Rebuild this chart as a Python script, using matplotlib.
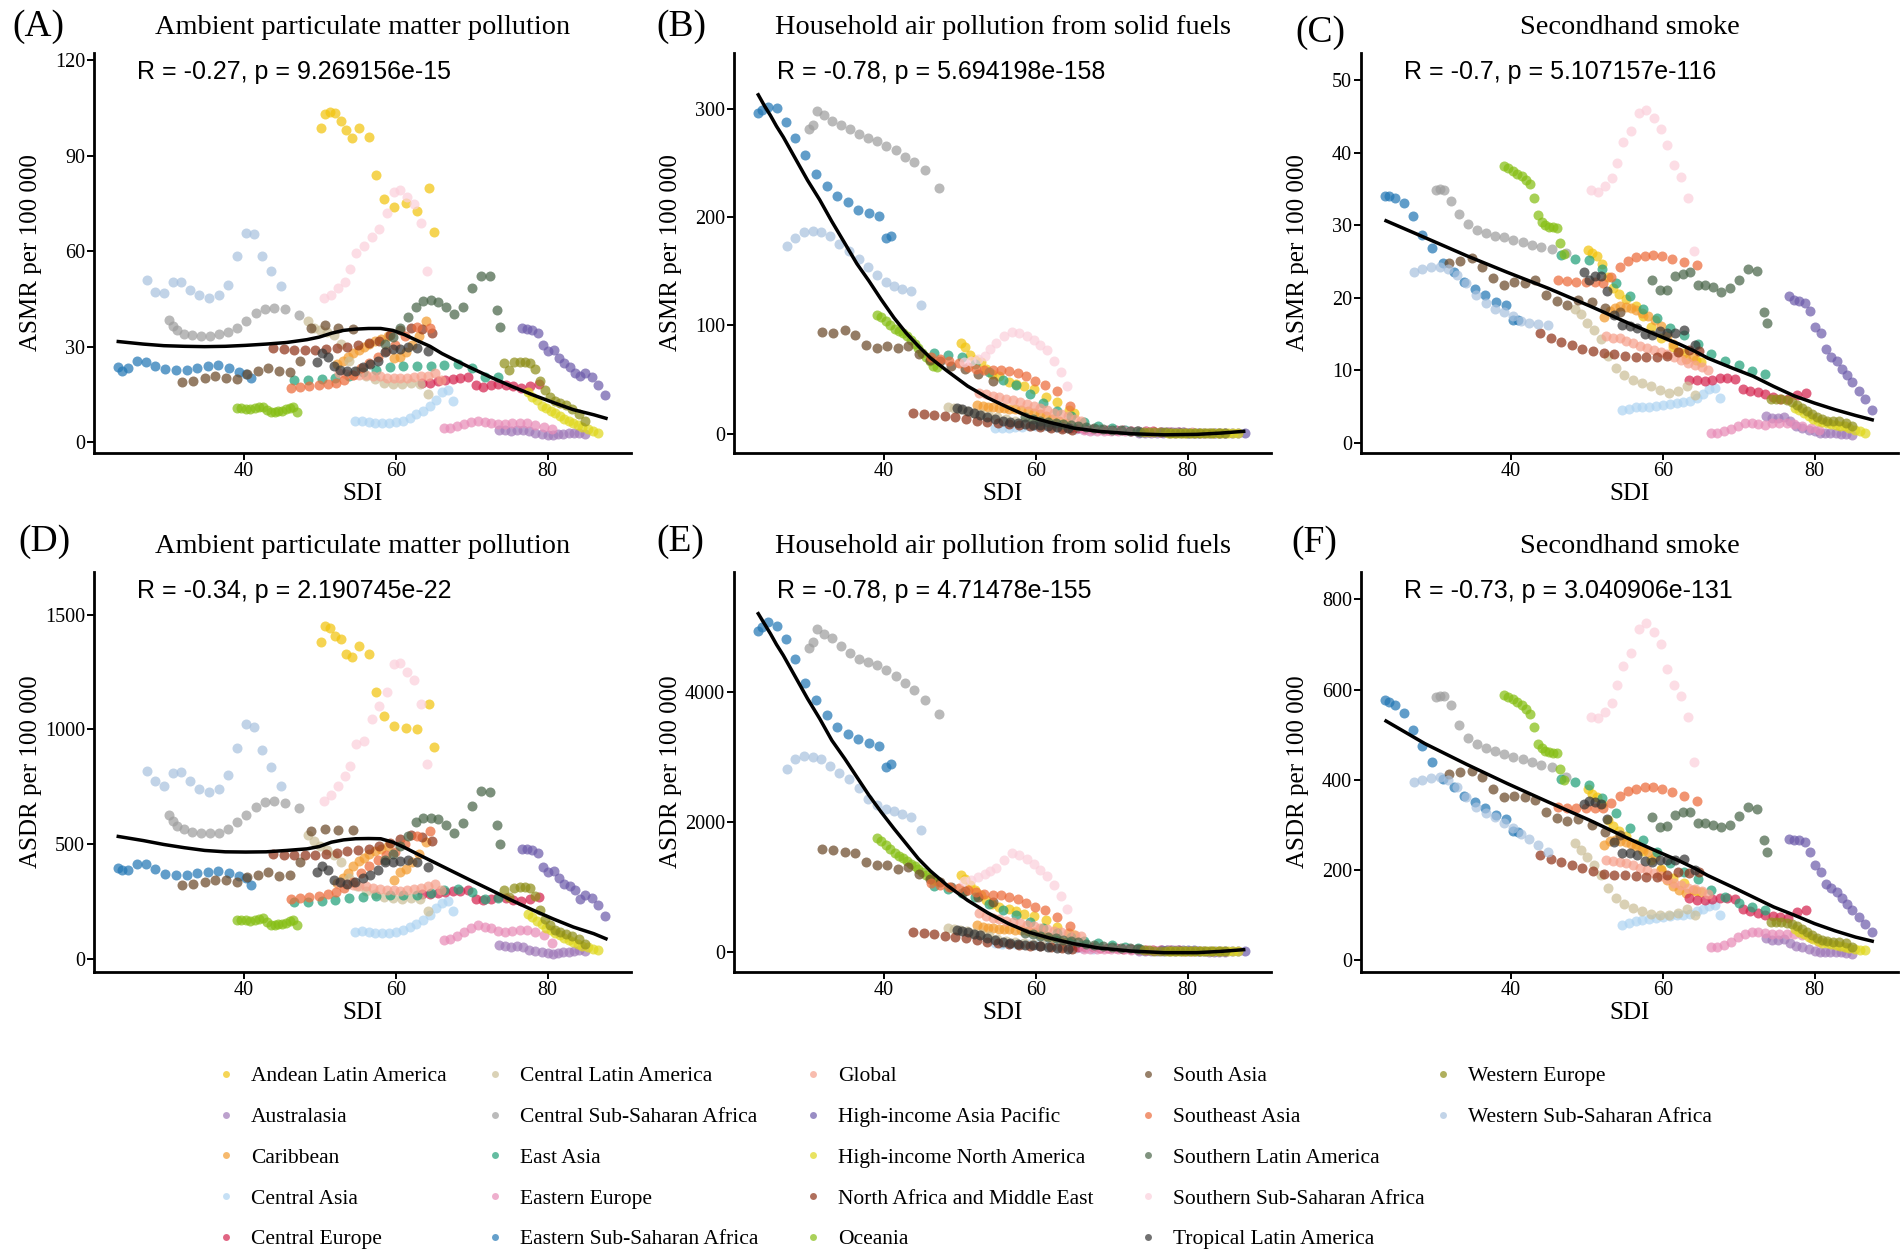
import matplotlib
matplotlib.use("Agg")
import matplotlib.pyplot as plt
from matplotlib.lines import Line2D

SERIF = ['Liberation Serif', 'DejaVu Serif']
SANS = ['Liberation Sans', 'DejaVu Sans']
plt.rcParams['font.family'] = SERIF

# ---------------- data ----------------
# Each region: SDI values, then ASMR (A ambient PM, B household, C secondhand)
# and ASDR (D ambient PM, E household, F secondhand)

andean_sdi = [50.1, 50.6, 51.3, 52.0, 52.7, 53.4, 54.2, 55.2, 56.4, 57.4, 58.4, 59.8, 61.4, 62.8, 64.4, 65.0]
andean_a = [98.7, 103.3, 103.8, 103.5, 101.0, 98.0, 95.5, 98.8, 96.0, 84.0, 76.5, 73.8, 75.3, 72.8, 80.0, 66.0]
andean_b = [84, 80, 73, 68, 66, 60, 55, 53, 48, 46, 44, 41, 34, 29, 22, 19]
andean_c = [26.6, 26.1, 25.7, 24.7, 22.9, 21.3, 20.5, 19.9, 18.8, 17.5, 16.0, 14.4, 13.2, 12.4, 11.5, 11.2]
andean_d = [1379, 1450, 1440, 1408, 1395, 1329, 1314, 1362, 1329, 1162, 1056, 1016, 1005, 1000, 1110, 922]
andean_e = [1180, 1120, 1040, 950, 880, 800, 745, 700, 668, 630, 592, 560, 500, 385, 300, 257]
andean_f = [378, 368, 362, 345, 310, 296, 285, 275, 257, 242, 222, 201, 182, 170, 153, 150]

australasia_sdi = [73.6, 74.4, 75.2, 76.0, 76.8, 77.6, 78.4, 79.2, 80.0, 80.7, 81.4, 82.1, 82.8, 83.5, 84.2, 84.9]
australasia_a = [4.0, 3.8, 3.6, 3.8, 3.9, 3.5, 3.0, 2.8, 2.5, 2.4, 2.6, 2.8, 2.9, 2.9, 3.0, 2.6]
australasia_b = [0.8, 0.8, 0.7, 0.7, 0.7, 0.6, 0.6, 0.6, 0.5, 0.5, 0.5, 0.4, 0.4, 0.4, 0.3, 0.3]
australasia_c = [3.7, 3.5, 3.4, 3.6, 3.0, 2.4, 2.1, 1.8, 1.6, 1.4, 1.4, 1.4, 1.4, 1.3, 1.2, 1.1]
australasia_d = [58, 54, 52, 57, 50, 40, 34, 30, 24, 22, 25, 28, 30, 33, 36, 32]
australasia_e = [15, 14, 13.5, 13, 12.5, 12, 11, 10, 9.5, 9, 8.5, 8, 7.5, 7, 6.5, 6]
australasia_f = [47, 44, 43, 46, 38, 30, 27, 23, 19, 17, 17, 17, 17, 16, 14, 13]

caribbean_sdi = [52.3, 53.0, 53.7, 54.4, 55.1, 55.8, 56.5, 57.3, 58.1, 58.9, 59.7, 60.5, 61.3, 62.1, 63.0, 64.0]
caribbean_a = [24.5, 25.5, 26.8, 28.0, 29.0, 30.0, 31.0, 31.8, 32.6, 33.4, 26.5, 27.0, 28.5, 30.5, 33.5, 38.0]
caribbean_b = [26.5, 25.5, 25, 24.5, 24, 23.5, 23, 22.5, 22, 21, 19.5, 18, 16, 14, 12, 9.5]
caribbean_c = [17.3, 18.2, 18.6, 18.8, 18.7, 18.6, 18.3, 17.9, 17.5, 17.0, 16.1, 14.8, 13.6, 12.6, 11.6, 11.8]
caribbean_d = [330, 350, 375, 405, 425, 440, 455, 468, 480, 490, 345, 380, 390, 420, 455, 510]
caribbean_e = [420, 390, 375, 368, 362, 357, 350, 345, 335, 322, 305, 280, 250, 220, 190, 150]
caribbean_f = [255, 264, 265, 264, 261, 257, 252, 246, 240, 228, 199, 176, 164, 155, 148, 154]

central_asia_sdi = [54.6, 55.5, 56.4, 57.3, 58.2, 59.1, 60.0, 60.9, 61.8, 62.7, 63.6, 64.5, 65.3, 66.1, 66.9, 67.5]
central_asia_a = [6.6, 6.9, 6.4, 6.1, 6.0, 6.1, 6.3, 6.8, 7.6, 8.8, 10.0, 11.5, 13.2, 15.8, 16.5, 13.0]
central_asia_b = [5.5, 5.3, 5.5, 6.0, 6.5, 7.0, 7.0, 7.0, 6.5, 6.0, 5.5, 5.0, 4.5, 4.0, 3.5, 3.0]
central_asia_c = [4.5, 4.7, 4.9, 5.0, 5.0, 5.1, 5.3, 5.4, 5.5, 5.6, 5.8, 6.2, 6.8, 7.4, 7.6, 6.2]
central_asia_d = [116, 120, 115, 110, 110, 112, 117, 125, 138, 152, 168, 190, 220, 245, 250, 210]
central_asia_e = [135, 128, 125, 125, 122, 118, 112, 105, 98, 90, 82, 75, 68, 62, 56, 50]
central_asia_f = [78, 82, 85, 88, 90, 92, 95, 97, 99, 99, 101, 107, 113, 118, 121, 99]

central_europe_sdi = [63.5, 64.5, 65.5, 66.5, 67.5, 68.5, 69.5, 70.5, 71.5, 72.5, 73.5, 74.5, 75.5, 76.5, 77.7, 78.9]
central_europe_a = [18.6, 18.8, 19.2, 19.6, 19.8, 20.2, 20.5, 18.0, 17.5, 18.0, 18.4, 18.2, 17.6, 17.0, 17.8, 18.3]
central_europe_b = [6.0, 5.6, 5.2, 4.8, 4.4, 4.0, 3.7, 3.4, 3.1, 2.8, 2.5, 2.3, 2.1, 1.9, 1.7, 1.5]
central_europe_c = [8.7, 8.7, 8.6, 8.7, 8.9, 8.9, 8.8, 7.5, 7.1, 7.0, 6.7, 6.3, 6.1, 6.0, 6.6, 6.9]
central_europe_d = [280, 283, 287, 290, 293, 296, 300, 262, 255, 262, 268, 265, 255, 250, 262, 270]
central_europe_e = [95, 88, 82, 76, 70, 65, 60, 55, 50, 46, 42, 38, 35, 32, 29, 26]
central_europe_f = [136, 133, 132, 134, 136, 136, 134, 112, 107, 104, 100, 97, 94, 92, 105, 110]

central_la_sdi = [48.4, 49.2, 50.0, 50.9, 51.8, 52.8, 53.8, 54.9, 56.0, 57.2, 58.4, 59.6, 60.8, 62.0, 63.2, 64.3]
central_la_a = [38.0, 36.0, 35.2, 34.7, 33.8, 31.0, 25.5, 22.5, 20.8, 20.0, 18.8, 18.3, 18.3, 18.8, 18.5, 15.2]
central_la_b = [24.5, 24, 22.5, 21, 19.5, 18, 16.5, 15, 13.5, 12, 10.5, 9, 8, 7, 6, 5]
central_la_c = [18.5, 17.7, 16.5, 15.5, 14.3, 12.0, 10.4, 9.4, 8.7, 8.3, 7.8, 7.3, 6.9, 7.2, 7.8, 6.6]
central_la_d = [540, 512, 490, 475, 450, 420, 350, 318, 295, 282, 270, 265, 261, 265, 262, 210]
central_la_e = [370, 355, 340, 320, 300, 278, 240, 200, 175, 155, 140, 120, 103, 92, 83, 75]
central_la_f = [260, 243, 228, 210, 188, 160, 136, 123, 115, 108, 102, 100, 100, 104, 112, 100]

central_ssa_sdi = [30.1, 30.6, 31.2, 32.0, 33.1, 34.3, 35.5, 36.7, 37.9, 39.1, 40.3, 41.5, 42.7, 43.9, 45.4, 47.2]
central_ssa_a = [38.5, 36.5, 35.2, 34.2, 33.7, 33.4, 33.5, 34.0, 34.8, 36.0, 38.2, 40.6, 41.9, 42.2, 41.9, 40.0]
central_ssa_b = [281, 285, 298, 294, 289, 285, 281, 277, 273, 270, 266, 262, 256, 251, 244, 227]
central_ssa_c = [34.8, 35.0, 34.9, 33.3, 31.6, 30.2, 29.4, 28.9, 28.5, 28.3, 28.0, 27.7, 27.3, 27.0, 26.7, 26.1]
central_ssa_d = [625, 600, 580, 565, 553, 546, 546, 550, 565, 595, 625, 660, 683, 688, 678, 655]
central_ssa_e = [4680, 4780, 4980, 4900, 4840, 4720, 4600, 4520, 4470, 4417, 4340, 4250, 4150, 4030, 3890, 3672]
central_ssa_f = [583, 586, 585, 566, 522, 492, 478, 470, 463, 457, 451, 445, 439, 433, 427, 405]

east_asia_sdi = [46.6, 48.4, 50.2, 52.0, 53.8, 55.6, 57.4, 59.2, 61.0, 62.8, 64.6, 66.4, 68.2, 70.0, 71.8, 73.4]
east_asia_a = [19.7, 19.7, 20.0, 20.4, 21.0, 22.0, 22.8, 23.6, 23.9, 23.9, 24.0, 24.4, 24.8, 23.3, 20.5, 20.5]
east_asia_b = [75, 73, 71, 64, 57, 50, 45, 37, 28, 21, 16, 11, 7.5, 5, 3.5, 2.5]
east_asia_c = [25.9, 25.4, 25.2, 24.0, 22.0, 20.2, 18.5, 17.2, 15.9, 14.9, 13.6, 12.2, 11.3, 10.8, 9.9, 9.5]
east_asia_d = [247, 247, 252, 258, 263, 269, 274, 276, 276, 279, 285, 298, 304, 290, 260, 265]
east_asia_e = [1015, 975, 915, 840, 740, 650, 565, 465, 365, 290, 230, 175, 138, 105, 80, 65]
east_asia_f = [402, 394, 387, 360, 326, 293, 265, 240, 214, 195, 179, 155, 139, 126, 116, 110]

eastern_europe_sdi = [66.3, 67.2, 68.1, 69.0, 69.9, 70.8, 71.7, 72.6, 73.5, 74.4, 75.3, 76.3, 77.3, 78.4, 79.5, 80.6]
eastern_europe_a = [4.5, 4.7, 5.1, 5.8, 6.4, 6.6, 6.3, 6.0, 5.7, 5.8, 6.0, 6.1, 6.0, 5.6, 5.0, 4.3]
eastern_europe_b = [3.0, 2.9, 2.8, 2.7, 2.6, 2.5, 2.4, 2.3, 2.2, 2.1, 2.0, 1.9, 1.8, 1.7, 1.6, 1.5]
eastern_europe_c = [1.4, 1.4, 1.6, 2.0, 2.4, 2.8, 2.8, 2.6, 2.5, 2.7, 2.8, 2.8, 2.6, 2.4, 2.1, 1.8]
eastern_europe_d = [80, 88, 100, 118, 135, 145, 140, 132, 120, 117, 120, 123, 123, 115, 102, 70]
eastern_europe_e = [45, 44, 43, 42, 41, 40, 39, 37, 35, 33, 31, 29, 27, 25, 23, 21]
eastern_europe_f = [28, 29, 32, 40, 50, 58, 61, 61, 59, 58, 58, 58, 58, 54, 47, 40]

eastern_ssa_sdi = [23.4, 23.9, 24.7, 25.9, 27.0, 28.3, 29.6, 31.0, 32.4, 33.8, 35.2, 36.6, 38.0, 39.3, 40.2, 40.9]
eastern_ssa_a = [23.8, 22.5, 23.5, 25.5, 25.2, 24.0, 23.0, 22.7, 22.9, 23.3, 23.9, 24.2, 23.5, 22.2, 21.5, 20.2]
eastern_ssa_b = [296, 299, 302, 301, 288, 273, 257, 240, 229, 220, 214, 207, 204, 201, 181, 183]
eastern_ssa_c = [34.0, 34.0, 33.8, 33.0, 31.2, 28.6, 26.8, 24.8, 23.5, 22.2, 21.2, 20.4, 19.4, 19.0, 17.0, 17.0]
eastern_ssa_d = [395, 385, 385, 412, 412, 392, 370, 364, 364, 372, 380, 384, 375, 360, 352, 322]
eastern_ssa_e = [4950, 5000, 5080, 5030, 4820, 4520, 4150, 3880, 3650, 3470, 3360, 3280, 3225, 3170, 2850, 2900]
eastern_ssa_f = [577, 573, 565, 547, 510, 475, 440, 402, 384, 363, 350, 336, 322, 312, 285, 283]

global_sdi = [52.5, 53.4, 54.3, 55.2, 56.1, 57.0, 57.9, 58.8, 59.7, 60.6, 61.5, 62.4, 63.3, 64.2, 65.1, 66.0]
global_a = [21.8, 21.5, 21.3, 21.3, 21.2, 21.0, 20.8, 20.4, 20.2, 20.2, 20.4, 20.7, 20.9, 21.0, 21.8, 19.7]
global_b = [38, 36.5, 35, 33.5, 32.5, 31, 29.5, 27.5, 25.5, 23.5, 21.5, 19.5, 17.8, 16, 14, 12]
global_c = [14.7, 14.5, 14.4, 14.1, 13.8, 13.4, 13.1, 12.8, 12.6, 12.3, 11.8, 11.4, 11.0, 10.8, 10.5, 10.0]
global_d = [330, 325, 320, 318, 315, 310, 305, 300, 298, 297, 300, 305, 310, 315, 325, 300]
global_e = [595, 560, 530, 505, 482, 460, 440, 415, 395, 375, 352, 330, 310, 290, 268, 245]
global_f = [221, 219, 217, 214, 210, 204, 198, 192, 186, 179, 170, 165, 160, 157, 153, 146]

hi_asia_pacific_sdi = [76.6, 77.3, 78.0, 78.7, 79.4, 80.1, 80.8, 81.5, 82.2, 82.9, 83.6, 84.3, 85.0, 85.8, 86.7, 87.6]
hi_asia_pacific_a = [35.9, 35.5, 35.4, 34.4, 30.5, 28.8, 29.0, 26.5, 25.1, 23.8, 21.8, 21.0, 21.8, 20.5, 18.0, 14.8]
hi_asia_pacific_b = [1.6, 1.5, 1.4, 1.3, 1.2, 1.1, 1.0, 0.9, 0.8, 0.7, 0.6, 0.6, 0.5, 0.5, 0.4, 0.4]
hi_asia_pacific_c = [20.2, 19.7, 19.6, 19.3, 18.2, 16.0, 15.2, 12.9, 11.9, 11.3, 10.2, 9.3, 8.4, 7.2, 6.0, 4.6]
hi_asia_pacific_d = [479, 479, 474, 462, 400, 380, 383, 350, 325, 315, 300, 262, 276, 265, 232, 185]
hi_asia_pacific_e = [30, 29, 28, 27, 26, 25, 24, 23, 22, 21, 20, 19, 18, 17, 16, 15]
hi_asia_pacific_f = [269, 266, 265, 262, 240, 210, 195, 168, 158, 151, 136, 123, 110, 95, 80, 61]

hi_north_america_sdi = [77.4, 78.0, 78.6, 79.2, 79.8, 80.4, 81.0, 81.6, 82.2, 82.8, 83.4, 84.0, 84.6, 85.3, 86.0, 86.7]
hi_north_america_a = [16.0, 14.4, 13.2, 11.6, 10.8, 10.0, 9.2, 8.3, 7.3, 6.6, 6.1, 5.5, 4.9, 4.3, 3.6, 2.9]
hi_north_america_b = [1.0, 1.0, 0.9, 0.9, 0.9, 0.8, 0.8, 0.8, 0.7, 0.7, 0.7, 0.6, 0.6, 0.6, 0.5, 0.5]
hi_north_america_c = [4.8, 4.5, 4.1, 3.7, 3.3, 3.1, 2.9, 2.8, 2.6, 2.5, 2.4, 2.3, 2.1, 1.8, 1.6, 1.4]
hi_north_america_d = [196, 180, 165, 150, 136, 124, 112, 102, 92, 82, 73, 63, 57, 50, 44, 36]
hi_north_america_e = [16, 15, 15, 14, 14, 13, 13, 12, 12, 11, 11, 10, 10, 9, 9, 8]
hi_north_america_f = [67, 62, 57, 51, 45, 41, 38, 36, 34, 32, 30, 28, 26, 24, 22, 21]

name_sdi = [43.8, 45.2, 46.6, 48.0, 49.4, 50.8, 52.2, 53.6, 55.0, 56.4, 57.8, 59.2, 60.6, 62.0, 63.4, 64.8]
name_a = [29.6, 29.2, 29.1, 29.1, 29.1, 29.2, 29.6, 30.0, 30.5, 31.2, 32.0, 33.8, 35.3, 35.8, 35.5, 34.5]
name_b = [19.0, 18.4, 17.5, 16.5, 15.0, 13.5, 12.2, 11.0, 10.0, 9.2, 8.2, 7.2, 6.3, 5.2, 4.4, 3.8]
name_c = [15.2, 14.4, 13.9, 13.5, 13.0, 12.7, 12.4, 12.2, 12.0, 11.9, 11.9, 11.9, 12.0, 12.5, 12.8, 12.7]
name_d = [457, 452, 450, 450, 453, 458, 463, 468, 473, 479, 490, 503, 520, 540, 532, 512]
name_e = [305, 288, 270, 253, 237, 215, 180, 160, 145, 128, 112, 98, 88, 75, 63, 52]
name_f = [232, 223, 216, 210, 203, 197, 191, 187, 187, 185, 184, 184, 187, 194, 192, 194]

oceania_sdi = [39.0, 39.6, 40.2, 40.8, 41.4, 42.0, 42.5, 43.0, 43.5, 44.0, 44.5, 45.0, 45.5, 46.0, 46.5, 47.0]
oceania_a = [10.7, 10.8, 10.6, 10.5, 10.8, 11.2, 11.3, 10.2, 9.6, 9.7, 9.8, 10.0, 10.4, 10.8, 11.0, 9.6]
oceania_b = [110, 108, 104, 100, 97, 95, 93, 90, 87, 83, 79, 75, 71, 67, 63, 62]
oceania_c = [38.2, 37.9, 37.5, 37.1, 36.7, 36.2, 35.6, 33.7, 31.4, 30.5, 30.0, 29.8, 29.7, 29.6, 27.5, 26.0]
oceania_d = [168, 170, 167, 165, 168, 174, 176, 160, 148, 148, 150, 153, 157, 163, 167, 145]
oceania_e = [1750, 1710, 1645, 1580, 1530, 1485, 1450, 1400, 1355, 1320, 1285, 1240, 1190, 1150, 1110, 1090]
oceania_f = [588, 584, 578, 572, 566, 557, 546, 517, 480, 470, 464, 461, 460, 458, 424, 400]

south_asia_sdi = [31.8, 33.3, 34.8, 36.2, 37.6, 39.0, 40.4, 41.8, 43.2, 44.6, 46.0, 47.3, 48.8, 50.6, 52.4, 54.3]
south_asia_a = [19.0, 19.3, 20.4, 20.8, 20.2, 19.8, 21.5, 22.6, 23.5, 22.5, 22.0, 25.5, 36.0, 37.0, 36.0, 35.5]
south_asia_b = [94, 93, 96, 91, 82, 79, 81, 79, 81, 74, 68, 67, 63, 60, 55, 49]
south_asia_c = [24.8, 25.0, 25.5, 24.3, 22.7, 21.8, 22.2, 22.0, 22.5, 20.4, 19.6, 19.0, 19.7, 19.4, 18.6, 18.1]
south_asia_d = [320, 326, 334, 342, 345, 334, 356, 366, 376, 360, 366, 421, 555, 566, 560, 559]
south_asia_e = [1592, 1565, 1545, 1530, 1385, 1335, 1335, 1284, 1305, 1200, 1125, 1080, 1002, 940, 855, 765]
south_asia_f = [413, 416, 418, 406, 380, 361, 364, 361, 354, 328, 314, 307, 313, 300, 284, 276]

southeast_asia_sdi = [46.2, 47.4, 48.6, 49.8, 51.0, 52.1, 53.2, 54.3, 55.4, 56.5, 57.6, 58.7, 59.9, 61.2, 62.8, 64.5]
southeast_asia_a = [17.0, 17.3, 17.6, 18.0, 18.3, 18.6, 19.5, 21.3, 23.3, 25.0, 26.8, 28.8, 30.5, 33.5, 36.2, 36.0]
southeast_asia_b = [71, 69, 67, 65, 62, 60, 59, 59, 59, 58, 56, 53, 49, 45, 39, 26]
southeast_asia_c = [22.4, 22.3, 22.2, 22.2, 22.2, 22.0, 22.8, 24.3, 25.1, 25.6, 25.8, 25.9, 25.7, 25.3, 24.9, 24.5]
southeast_asia_d = [261, 264, 268, 273, 282, 292, 310, 335, 375, 405, 430, 450, 465, 500, 535, 555]
southeast_asia_e = [1060, 1035, 1005, 980, 950, 925, 898, 885, 872, 855, 815, 760, 700, 645, 540, 400]
southeast_asia_f = [338, 337, 336, 336, 336, 337, 349, 363, 374, 379, 383, 384, 380, 372, 363, 352]

southern_la_sdi = [58.6, 59.6, 60.6, 61.6, 62.6, 63.6, 64.6, 65.6, 66.6, 67.6, 68.8, 70.0, 71.2, 72.4, 73.3, 73.7]
southern_la_a = [31.0, 33.0, 36.0, 39.5, 42.5, 44.3, 44.8, 44.0, 42.7, 40.3, 42.5, 48.5, 52.4, 52.2, 41.7, 36.4]
southern_la_b = [15, 14, 12, 11, 10, 9, 8, 7, 6, 5, 4, 3.5, 3, 2.5, 2.2, 2]
southern_la_c = [22.5, 21.1, 21.1, 23.0, 23.3, 23.6, 21.8, 21.8, 21.5, 20.8, 21.3, 22.5, 23.9, 23.7, 18.1, 16.5]
southern_la_d = [430, 455, 490, 535, 595, 615, 612, 610, 583, 548, 590, 665, 733, 725, 585, 500]
southern_la_e = [290, 270, 250, 232, 210, 190, 170, 150, 130, 112, 95, 80, 68, 58, 50, 45]
southern_la_f = [317, 295, 296, 322, 328, 328, 303, 303, 300, 294, 300, 318, 339, 335, 265, 239]

southern_ssa_sdi = [50.5, 51.4, 52.4, 53.3, 54.0, 54.8, 55.8, 56.8, 57.8, 58.8, 59.7, 60.6, 61.5, 62.4, 63.3, 64.1]
southern_ssa_a = [45.3, 46.3, 48.5, 50.5, 54.5, 59.5, 61.6, 64.5, 67.0, 72.0, 78.5, 79.2, 77.0, 75.0, 69.0, 54.0]
southern_ssa_b = [66, 67, 69, 72, 78, 84, 90, 94, 93, 90, 87, 82, 77, 67, 57, 44]
southern_ssa_c = [34.9, 34.5, 35.4, 36.5, 38.6, 41.4, 43.0, 45.5, 45.9, 44.8, 43.3, 41.0, 38.3, 36.6, 33.8, 26.5]
southern_ssa_d = [688, 715, 755, 795, 840, 935, 951, 1045, 1100, 1162, 1285, 1290, 1250, 1215, 1110, 850]
southern_ssa_e = [1090, 1110, 1150, 1200, 1250, 1300, 1410, 1530, 1500, 1430, 1355, 1270, 1170, 1040, 870, 660]
southern_ssa_f = [539, 536, 549, 570, 610, 652, 680, 735, 747, 728, 700, 645, 610, 585, 540, 440]

tropical_la_sdi = [49.6, 50.3, 51.0, 51.8, 52.6, 53.6, 54.6, 55.6, 56.6, 57.6, 58.6, 59.6, 60.6, 61.6, 62.8, 64.2]
tropical_la_a = [25.4, 28.0, 27.0, 24.0, 22.8, 22.3, 22.6, 23.6, 24.6, 25.6, 28.5, 29.3, 29.2, 30.0, 29.8, 28.6]
tropical_la_b = [24, 23, 21, 19.5, 17.5, 15.5, 13.2, 12, 11, 10, 9.2, 8.3, 7.6, 6.9, 6.3, 5.7]
tropical_la_c = [23.5, 22.5, 23.0, 23.0, 21.0, 17.6, 16.2, 16.1, 15.8, 15.0, 14.9, 15.4, 15.1, 15.1, 15.5, 13.5]
tropical_la_d = [377, 405, 385, 341, 334, 327, 333, 352, 366, 385, 420, 420, 425, 430, 420, 399]
tropical_la_e = [340, 325, 308, 282, 257, 220, 183, 160, 143, 125, 115, 103, 90, 78, 65, 50]
tropical_la_f = [345, 352, 350, 345, 312, 262, 236, 236, 232, 220, 217, 221, 221, 221, 224, 200]

western_europe_sdi = [74.2, 74.9, 75.6, 76.3, 77.0, 77.7, 78.4, 79.0, 79.6, 80.3, 81.0, 81.7, 82.4, 83.2, 84.1, 85.0]
western_europe_a = [24.9, 22.8, 25.2, 25.4, 25.4, 25.0, 23.0, 19.2, 16.5, 14.2, 13.0, 12.4, 11.7, 10.5, 8.8, 6.6]
western_europe_b = [1.5, 1.4, 1.3, 1.2, 1.2, 1.1, 1.0, 1.0, 0.9, 0.9, 0.8, 0.8, 0.7, 0.7, 0.6, 0.6]
western_europe_c = [6.0, 6.0, 6.0, 5.9, 5.6, 5.3, 4.8, 4.4, 4.0, 3.6, 3.3, 3.1, 3.0, 3.0, 2.8, 2.3]
western_europe_d = [298, 270, 308, 312, 312, 307, 275, 211, 175, 145, 126, 116, 107, 97, 85, 65]
western_europe_e = [25, 24, 23, 22, 21, 20, 19, 18, 17, 16, 15, 14, 12, 11, 10, 9]
western_europe_f = [84, 84, 84, 82, 79, 74, 67, 61, 55, 48, 44, 41, 39, 39, 37, 28]

western_ssa_sdi = [27.2, 28.3, 29.4, 30.6, 31.7, 32.9, 34.1, 35.4, 36.7, 37.9, 39.1, 40.2, 41.3, 42.4, 43.6, 44.8]
western_ssa_a = [51.0, 47.3, 47.0, 50.3, 50.5, 48.0, 46.2, 45.3, 46.3, 49.5, 58.5, 65.8, 65.5, 58.5, 54.0, 49.0]
western_ssa_b = [173, 181, 186, 187, 186, 183, 175, 169, 161, 154, 147, 140, 136, 134, 132, 119]
western_ssa_c = [23.6, 24.0, 24.2, 24.3, 24.0, 23.2, 22.0, 20.4, 19.3, 18.5, 18.0, 17.5, 16.8, 16.5, 16.4, 16.3]
western_ssa_d = [820, 775, 755, 810, 815, 775, 740, 725, 740, 800, 920, 1024, 1010, 910, 835, 755]
western_ssa_e = [2820, 2980, 3020, 3010, 2970, 2870, 2760, 2660, 2520, 2350, 2270, 2210, 2170, 2130, 2080, 1880]
western_ssa_f = [395, 400, 404, 405, 398, 383, 362, 338, 325, 316, 303, 292, 278, 268, 255, 240]

# smoothed (loess) curves
smooth_a_x = [23.4, 26.7, 29.4, 32.1, 34.8, 37.5, 40.2, 42.9, 45.6, 48.3, 49.9, 51.5, 53.1, 54.7, 56.4, 58.0, 59.6, 61.2, 62.8, 64.5, 66.1, 69.3, 72.6, 75.3, 78.0, 80.7, 83.4, 86.1, 87.7]
smooth_a_y = [31.7, 30.9, 30.4, 30.2, 30.1, 30.2, 30.5, 30.9, 31.4, 32.3, 33.1, 34.3, 35.2, 35.6, 35.8, 35.8, 35.2, 33.8, 32.0, 30.2, 27.9, 24.1, 20.4, 17.6, 15.0, 12.6, 10.3, 8.7, 7.6]
smooth_b_x = [23.4, 24.2, 25.0, 25.8, 26.7, 27.5, 28.3, 29.1, 29.9, 30.7, 31.5, 33.1, 34.8, 36.4, 38.0, 39.6, 41.3, 42.9, 44.5, 46.1, 48.3, 51.0, 53.7, 56.4, 59.0, 61.8, 65.0, 68.3, 72.6, 76.9, 81.2, 84.4, 87.4]
smooth_b_y = [313, 303, 294, 284, 274, 264, 254, 244, 234, 225, 216, 196, 176, 157, 141, 124, 107, 93, 81, 70, 58, 44, 33, 24, 16, 10.5, 5.2, 2.2, 0, -1, -0.6, 0.6, 2.2]
smooth_c_x = [23.5, 28.6, 34.1, 39.5, 44.9, 50.3, 55.7, 58.9, 62.2, 64.3, 65.9, 69.2, 71.9, 74.6, 77.3, 80.0, 82.7, 85.4, 87.6]
smooth_c_y = [30.6, 28.3, 25.8, 23.5, 21.3, 18.9, 16.4, 15.0, 13.6, 12.6, 11.7, 10.3, 9.2, 7.8, 6.5, 5.5, 4.6, 3.8, 3.2]
smooth_d_x = [23.4, 26.7, 29.4, 32.1, 34.8, 37.5, 40.2, 42.9, 45.6, 48.3, 49.9, 51.5, 53.1, 54.7, 56.4, 58.0, 59.6, 61.2, 62.8, 65.0, 67.2, 69.9, 72.6, 75.3, 78.0, 80.7, 83.4, 86.1, 87.7]
smooth_d_y = [533, 515, 498, 484, 472, 466, 465, 466, 472, 479, 489, 508, 518, 523, 524, 523, 508, 484, 457, 421, 385, 341, 298, 254, 213, 174, 138, 109, 87]
smooth_e_x = [23.4, 24.2, 25.0, 25.8, 26.7, 27.5, 28.3, 29.1, 29.9, 30.7, 31.5, 33.1, 34.8, 36.4, 38.0, 39.6, 41.3, 42.9, 44.5, 46.1, 48.3, 51.0, 53.7, 56.4, 59.0, 61.8, 65.0, 68.3, 72.6, 76.9, 81.2, 84.4, 87.4]
smooth_e_y = [5213, 5059, 4905, 4738, 4571, 4404, 4237, 4070, 3903, 3749, 3595, 3261, 2979, 2696, 2414, 2157, 1900, 1669, 1438, 1248, 1027, 796, 601, 437, 308, 216, 128, 62, 15, -10, -10, 10, 36]
smooth_f_x = [23.5, 28.6, 34.1, 39.5, 44.9, 50.3, 55.7, 58.9, 62.2, 64.3, 65.9, 69.2, 71.9, 74.6, 77.3, 80.0, 82.7, 85.4, 87.6]
smooth_f_y = [530, 480, 434, 391, 350, 310, 267, 243, 219, 202, 187, 161, 139, 117, 99, 80, 64, 50, 41]

region_names = ["Andean Latin America", "Australasia", "Caribbean", "Central Asia", "Central Europe",
                "Central Latin America", "Central Sub-Saharan Africa", "East Asia", "Eastern Europe",
                "Eastern Sub-Saharan Africa", "Global", "High-income Asia Pacific",
                "High-income North America", "North Africa and Middle East", "Oceania", "South Asia",
                "Southeast Asia", "Southern Latin America", "Southern Sub-Saharan Africa",
                "Tropical Latin America", "Western Europe", "Western Sub-Saharan Africa"]
region_colors = ["#F2C40F", "#A07AB9", "#F39C2F", "#AFD4F2", "#D4244F",
                 "#CBBF98", "#9E9E9E", "#22A079", "#E88DB8",
                 "#2478B5", "#F6A08C", "#6E5DAB",
                 "#E0D81E", "#8F3419", "#86BE14", "#6B4A2A",
                 "#EC6B3B", "#4A6649", "#FBD0DC",
                 "#363636", "#8F8F1A", "#A9C2DF"]

region_sdi = [andean_sdi, australasia_sdi, caribbean_sdi, central_asia_sdi, central_europe_sdi,
              central_la_sdi, central_ssa_sdi, east_asia_sdi, eastern_europe_sdi, eastern_ssa_sdi,
              global_sdi, hi_asia_pacific_sdi, hi_north_america_sdi, name_sdi, oceania_sdi,
              south_asia_sdi, southeast_asia_sdi, southern_la_sdi, southern_ssa_sdi,
              tropical_la_sdi, western_europe_sdi, western_ssa_sdi]
panel_values = {
    'A': [andean_a, australasia_a, caribbean_a, central_asia_a, central_europe_a, central_la_a,
          central_ssa_a, east_asia_a, eastern_europe_a, eastern_ssa_a, global_a, hi_asia_pacific_a,
          hi_north_america_a, name_a, oceania_a, south_asia_a, southeast_asia_a, southern_la_a,
          southern_ssa_a, tropical_la_a, western_europe_a, western_ssa_a],
    'B': [andean_b, australasia_b, caribbean_b, central_asia_b, central_europe_b, central_la_b,
          central_ssa_b, east_asia_b, eastern_europe_b, eastern_ssa_b, global_b, hi_asia_pacific_b,
          hi_north_america_b, name_b, oceania_b, south_asia_b, southeast_asia_b, southern_la_b,
          southern_ssa_b, tropical_la_b, western_europe_b, western_ssa_b],
    'C': [andean_c, australasia_c, caribbean_c, central_asia_c, central_europe_c, central_la_c,
          central_ssa_c, east_asia_c, eastern_europe_c, eastern_ssa_c, global_c, hi_asia_pacific_c,
          hi_north_america_c, name_c, oceania_c, south_asia_c, southeast_asia_c, southern_la_c,
          southern_ssa_c, tropical_la_c, western_europe_c, western_ssa_c],
    'D': [andean_d, australasia_d, caribbean_d, central_asia_d, central_europe_d, central_la_d,
          central_ssa_d, east_asia_d, eastern_europe_d, eastern_ssa_d, global_d, hi_asia_pacific_d,
          hi_north_america_d, name_d, oceania_d, south_asia_d, southeast_asia_d, southern_la_d,
          southern_ssa_d, tropical_la_d, western_europe_d, western_ssa_d],
    'E': [andean_e, australasia_e, caribbean_e, central_asia_e, central_europe_e, central_la_e,
          central_ssa_e, east_asia_e, eastern_europe_e, eastern_ssa_e, global_e, hi_asia_pacific_e,
          hi_north_america_e, name_e, oceania_e, south_asia_e, southeast_asia_e, southern_la_e,
          southern_ssa_e, tropical_la_e, western_europe_e, western_ssa_e],
    'F': [andean_f, australasia_f, caribbean_f, central_asia_f, central_europe_f, central_la_f,
          central_ssa_f, east_asia_f, eastern_europe_f, eastern_ssa_f, global_f, hi_asia_pacific_f,
          hi_north_america_f, name_f, oceania_f, south_asia_f, southeast_asia_f, southern_la_f,
          southern_ssa_f, tropical_la_f, western_europe_f, western_ssa_f],
}

panel_titles = {'A': "Ambient particulate matter pollution", 'B': "Household air pollution from solid fuels",
                'C': "Secondhand smoke", 'D': "Ambient particulate matter pollution",
                'E': "Household air pollution from solid fuels", 'F': "Secondhand smoke"}
panel_ylabels = {'A': "ASMR per 100 000", 'B': "ASMR per 100 000", 'C': "ASMR per 100 000",
                 'D': "ASDR per 100 000", 'E': "ASDR per 100 000", 'F': "ASDR per 100 000"}
panel_stats = {'A': "R = -0.27, p = 9.269156e-15", 'B': "R = -0.78, p = 5.694198e-158",
               'C': "R = -0.7, p = 5.107157e-116", 'D': "R = -0.34, p = 2.190745e-22",
               'E': "R = -0.78, p = 4.71478e-155", 'F': "R = -0.73, p = 3.040906e-131"}
panel_yticks = {'A': [0, 30, 60, 90, 120], 'B': [0, 100, 200, 300], 'C': [0, 10, 20, 30, 40, 50],
                'D': [0, 500, 1000, 1500], 'E': [0, 2000, 4000], 'F': [0, 200, 400, 600, 800]}
panel_ylim = {'A': (-3.3, 122.3), 'B': (-17.8, 351.6), 'C': (-1.37, 53.7),
              'D': (-58, 1686), 'E': (-308, 5855), 'F': (-27.5, 861)}
panel_smooth = {'A': (smooth_a_x, smooth_a_y), 'B': (smooth_b_x, smooth_b_y), 'C': (smooth_c_x, smooth_c_y),
                'D': (smooth_d_x, smooth_d_y), 'E': (smooth_e_x, smooth_e_y), 'F': (smooth_f_x, smooth_f_y)}
sdi_ticks = [40, 60, 80]

# ---------------- layout (pixels) ----------------
W, H = 1902, 1255
fig = plt.figure(figsize=(W / 100, H / 100), dpi=100)
AX_W, AX_H = 537, 400
lefts = {'A': 94, 'B': 734, 'C': 1361, 'D': 94, 'E': 734, 'F': 1361}
tops = {'A': 53, 'B': 53, 'C': 53, 'D': 572, 'E': 572, 'F': 572}
tag_pos = {'A': (12, 27), 'B': (656, 27), 'C': (1295, 33), 'D': (18, 542), 'E': (656, 542), 'F': (1291, 543)}

for key in ['A', 'B', 'C', 'D', 'E', 'F']:
    l, t = lefts[key], tops[key]
    ax = fig.add_axes([l / W, 1 - (t + AX_H) / H, AX_W / W, AX_H / H])
    for name, col, xs, ys in zip(region_names, region_colors, region_sdi, panel_values[key]):
        ax.scatter(xs, ys, s=52, color=col, alpha=0.72, linewidths=0, zorder=2)
    sx, sy = panel_smooth[key]
    ax.plot(sx, sy, color='black', lw=2.5, zorder=5, solid_joinstyle='round')
    ax.set_xlim(20.2, 91.0)
    ax.set_ylim(*panel_ylim[key])
    ax.set_xticks(sdi_ticks)
    ax.set_yticks(panel_yticks[key])
    for s in ['top', 'right']:
        ax.spines[s].set_visible(False)
    for s in ['left', 'bottom']:
        ax.spines[s].set_linewidth(2.0)
        ax.spines[s].set_color('black')
    ax.tick_params(axis='both', which='major', length=5, width=1.4, color='black',
                   labelsize=14.5, labelcolor='black', pad=1.5)
    for lab in ax.get_xticklabels() + ax.get_yticklabels():
        lab.set_fontfamily(SERIF)
    ax.set_xlabel("SDI", fontsize=18, family=SERIF)
    ax.set_ylabel(panel_ylabels[key], fontsize=18, family=SERIF)
    ax.xaxis.set_label_coords(0.5, -0.075)
    ax.yaxis.set_label_coords(-0.097, 0.5)
    ax.set_title(panel_titles[key], fontsize=20.4, pad=14, family=SERIF)
    ax.text(0.080, 0.952, panel_stats[key], transform=ax.transAxes, fontsize=18,
            family=SANS, ha='left', va='center')
    tx, ty = tag_pos[key]
    fig.text(tx / W, 1 - ty / H, "(" + key + ")", fontsize=27, ha='left', va='center', family=SERIF)

# ---------------- legend: 5 columns ----------------
col_marker_x = [226, 495, 813, 1148, 1443]
first_row_y = 1076
LEG_FS = 15.5
fs_px = LEG_FS * 100 / 72
for ci in range(5):
    idx = list(range(ci * 5, min(ci * 5 + 5, len(region_names))))
    handles = [Line2D([], [], ls='', marker='o', markersize=5, markeredgewidth=0,
                      color=region_colors[i], alpha=0.7) for i in idx]
    labels = [region_names[i] for i in idx]
    x0 = col_marker_x[ci] - 0.5 * fs_px
    top = first_row_y - 0.45 * fs_px
    fig.legend(handles, labels, loc='upper left', bbox_to_anchor=(x0 / W, 1 - top / H),
               frameon=False, handlelength=1.0, handletextpad=0.66,
               labelspacing=0.96, borderpad=0, borderaxespad=0, prop={'family': SERIF, 'size': LEG_FS})

fig.savefig("out.png", dpi=100)
